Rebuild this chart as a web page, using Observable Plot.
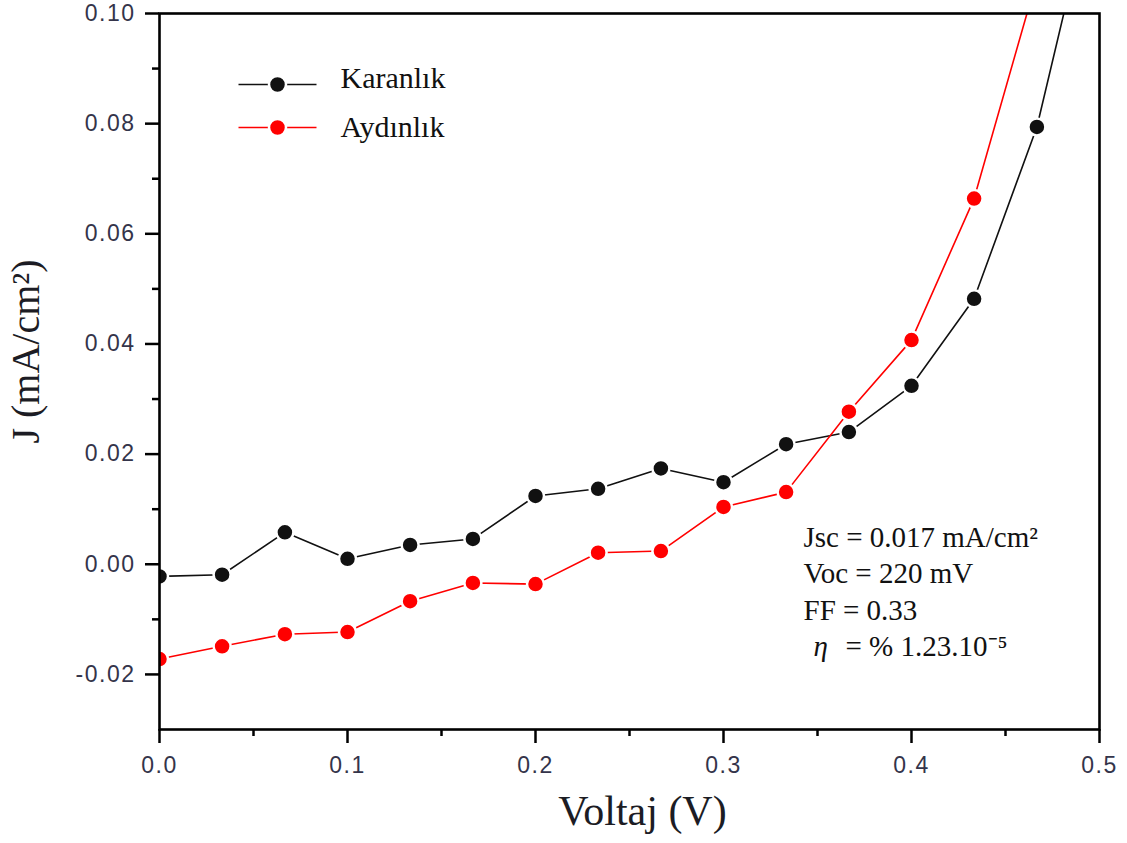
<!DOCTYPE html>
<html>
<head>
<meta charset="utf-8">
<script src="https://cdn.jsdelivr.net/npm/d3@7"></script>
<script src="https://cdn.jsdelivr.net/npm/@observablehq/plot@0.6"></script>
<style>
  body { margin: 0; background: #ffffff; }
  svg [aria-label="x-axis tick label"] text,
  svg [aria-label="y-axis tick label"] text { letter-spacing: 1.5px; }
</style>
</head>
<body>
<div id="chart"></div>
<script>
// ---- data ----
const voltage  = [0.0000, 0.0333, 0.0667, 0.1000, 0.1333, 0.1667, 0.2000, 0.2333, 0.2667, 0.3000, 0.3333, 0.3667, 0.4000, 0.4333, 0.4667, 0.5000];
const karanlik = [-0.0022, -0.0019, 0.0058, 0.0010, 0.0035, 0.0046, 0.0124, 0.0137, 0.0174, 0.0149, 0.0218, 0.0240, 0.0324, 0.0482, 0.0794, 0.1273];
const aydinlik = [-0.0172, -0.0149, -0.0127, -0.0123, -0.0067, -0.0034, -0.0036, 0.0021, 0.0024, 0.0104, 0.0131, 0.0277, 0.0407, 0.0664, 0.1063];
const seriesNames  = ["Karanlık", "Aydınlık"];
const seriesColors = ["#111111", "#ff0000"];
const xTicks      = [0.0, 0.1, 0.2, 0.3, 0.4, 0.5];
const xMinorTicks = [0.05, 0.15, 0.25, 0.35, 0.45];
const yTicks      = [-0.02, 0.00, 0.02, 0.04, 0.06, 0.08, 0.10];
const yMinorTicks = [-0.01, 0.01, 0.03, 0.05, 0.07, 0.09];
const xTitle = "Voltaj (V)";
const yTitle = "J (mA/cm²)";
const statLines = ["Jsc = 0.017 mA/cm²", "Voc = 220 mV", "FF = 0.33"];
const etaSymbol = "η";
const etaText = "= % 1.23.10⁻⁵";

// ---- build rows ----
const seriesValues = [karanlik, aydinlik];
const rows = [];
seriesValues.forEach((vals, s) => {
  vals.forEach((j, i) => rows.push({series: seriesNames[s], V: voltage[i], J: j}));
});

const serif = "Liberation Serif, Times New Roman, serif";
const sans = "Liberation Sans, Arial, sans-serif";
const segment = {draw(ctx) { ctx.moveTo(-39, 0); ctx.lineTo(39, 0); }};

const marks = [
  Plot.line(rows, {x: "V", y: "J", z: "series", stroke: "series", strokeWidth: 1.6, clip: true}),
  Plot.dot(rows, {x: "V", y: "J", fill: "series", r: 8.5, stroke: "white", strokeWidth: 2.5, clip: true}),
  Plot.axisX(xMinorTicks, {tickSize: 7, strokeWidth: 2.5, tickFormat: () => "", label: null}),
  Plot.axisX(xTicks, {tickSize: 14, strokeWidth: 2.5, tickPadding: 13, tickFormat: d => d.toFixed(1), fontSize: 23, fontFamily: sans, fill: "#34344a", label: null}),
  Plot.axisY(yMinorTicks, {tickSize: 7, strokeWidth: 2.5, tickFormat: () => "", label: null}),
  Plot.axisY(yTicks, {tickSize: 14, strokeWidth: 2.5, tickPadding: 10, tickFormat: d => d.toFixed(2), fontSize: 23, fontFamily: sans, fill: "#34344a", label: null}),
  Plot.frame({stroke: "#000", strokeWidth: 2.6}),
  // axis titles
  Plot.text([xTitle], {text: d => d, frameAnchor: "bottom", textAnchor: "middle", lineAnchor: "middle", dx: 13, dy: 82, fontSize: 42, fontFamily: serif, fill: "#1c1c24"}),
  Plot.text([yTitle], {text: d => d, frameAnchor: "left", textAnchor: "middle", lineAnchor: "middle", dx: -133, dy: -20, rotate: -90, fontSize: 40, fontFamily: serif, fill: "#1c1c24"})
];

// legend
const legendMarkerDy = [71, 114];
const legendTextDy = [65, 114];
seriesNames.forEach((name, i) => {
  marks.push(
    Plot.dot([name], {frameAnchor: "top-left", dx: 118, dy: legendMarkerDy[i], symbol: segment, stroke: d => d, fill: "none", strokeWidth: 1.6}),
    Plot.dot([name], {frameAnchor: "top-left", dx: 118, dy: legendMarkerDy[i], r: 8.5, fill: d => d, stroke: "white", strokeWidth: 2.5}),
    Plot.text([name], {text: d => d, frameAnchor: "top-left", dx: 181, dy: legendTextDy[i], textAnchor: "start", lineAnchor: "middle", fontSize: 30, fontFamily: serif, fill: "#111"})
  );
});

// photovoltaic parameters
const statDy = [524, 560.5, 597];
statLines.forEach((line, i) => {
  marks.push(Plot.text([line], {text: d => d, frameAnchor: "top-left", dx: 644, dy: statDy[i], textAnchor: "start", lineAnchor: "middle", fontSize: 29, fontFamily: serif, fill: "#111"}));
});
marks.push(
  Plot.text([etaSymbol], {text: d => d, frameAnchor: "top-left", dx: 654, dy: 633.5, textAnchor: "start", lineAnchor: "middle", fontSize: 29, fontStyle: "italic", fontFamily: serif, fill: "#111"}),
  Plot.text([etaText], {text: d => d, frameAnchor: "top-left", dx: 686, dy: 633.5, textAnchor: "start", lineAnchor: "middle", fontSize: 29, fontFamily: serif, fill: "#111"})
);

const chart = Plot.plot({
  width: 1127,
  height: 843,
  marginLeft: 159,
  marginRight: 28,
  marginTop: 13,
  marginBottom: 114,
  style: {background: "#ffffff", color: "#000", fontFamily: sans},
  x: {domain: [0, 0.5], label: null},
  y: {domain: [-0.03, 0.10], label: null},
  color: {domain: seriesNames, range: seriesColors},
  marks
});
document.getElementById("chart").appendChild(chart);
</script>
</body>
</html>
